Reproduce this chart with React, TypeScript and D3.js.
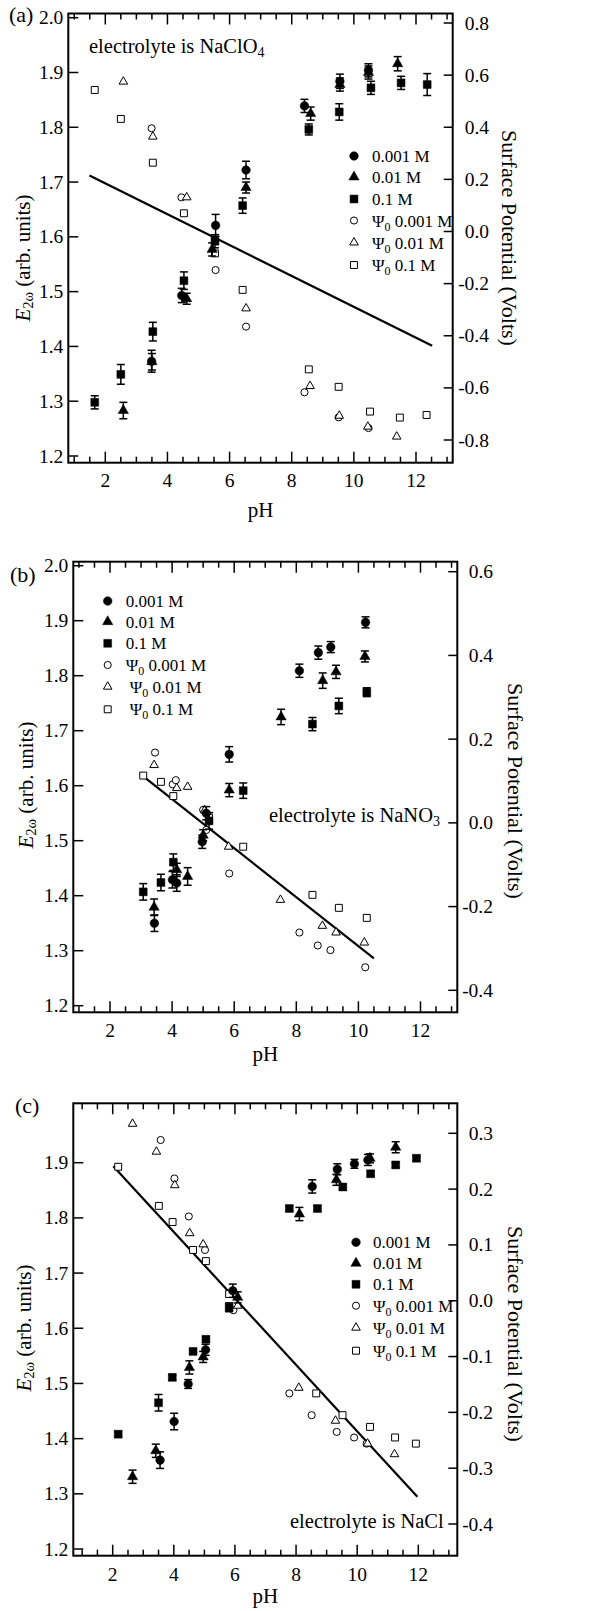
import React from 'react';
import * as d3 from 'd3';

// ---------- tick values ----------
const xTicks = [2, 4, 6, 8, 10, 12];
const xMinor = d3.range(1, 13.01, 0.5);
const leftTicksAB = [1.2, 1.3, 1.4, 1.5, 1.6, 1.7, 1.8, 1.9, 2.0];
const leftTicksC = [1.2, 1.3, 1.4, 1.5, 1.6, 1.7, 1.8, 1.9];
const rightTicksA = [-0.8, -0.6, -0.4, -0.2, 0.0, 0.2, 0.4, 0.6, 0.8];
const rightTicksB = [-0.4, -0.2, 0.0, 0.2, 0.4, 0.6];
const rightTicksC = [-0.4, -0.3, -0.2, -0.1, 0.0, 0.1, 0.2, 0.3];
const legendConc = ['0.001 M', '0.01 M', '0.1 M', '0.001 M', '0.01 M', '0.1 M'];

// ---------- panel (a) NaClO4 : [pH, E2w, err] ----------
const aFilled001: number[][] = [[3.49,1.373,0.02],[4.46,1.493,0.013],[5.55,1.621,0.02],[6.53,1.722,0.016],[8.41,1.839,0.012],[9.55,1.884,0.013],[10.47,1.904,0.012]];
const aFilled01: number[][] = [[2.58,1.283,0.015],[3.5,1.372,0.015],[4.62,1.487,0.01],[5.44,1.577,0.012],[6.53,1.690,0.01],[8.61,1.825,0.012],[9.55,1.878,0.012],[10.47,1.900,0.012],[11.41,1.916,0.013]];
const aFilled1: number[][] = [[1.66,1.298,0.012],[2.50,1.349,0.018],[3.53,1.427,0.017],[4.53,1.520,0.016],[5.53,1.592,0.012],[6.42,1.657,0.014],[8.55,1.796,0.01],[9.53,1.828,0.015],[10.55,1.872,0.012],[11.52,1.881,0.012],[12.36,1.878,0.02]];
// surface potential [pH, volts]
const aPsi001: number[][] = [[3.49,0.396],[4.45,0.131],[5.55,-0.148],[6.53,-0.365],[8.41,-0.617],[9.51,-0.713],[10.47,-0.754]];
const aPsi01: number[][] = [[2.58,0.575],[3.53,0.364],[4.62,0.131],[6.53,-0.295],[8.59,-0.593],[9.53,-0.707],[10.45,-0.749],[11.38,-0.787]];
const aPsi1: number[][] = [[1.66,0.543],[2.50,0.432],[3.53,0.264],[4.53,0.070],[5.53,-0.084],[6.42,-0.224],[8.55,-0.529],[9.51,-0.596],[10.52,-0.691],[11.48,-0.714],[12.34,-0.704]];
const aFit: number[][] = [[1.49,0.215],[12.52,-0.438]];

// ---------- panel (b) NaNO3 ----------
const bFilled001: number[][] = [[3.43,1.350,0.015],[4.01,1.429,0.015],[4.15,1.423,0.015],[4.97,1.498,0.012],[5.10,1.550,0.012],[5.84,1.657,0.014],[8.10,1.809,0.012],[8.71,1.842,0.012],[9.11,1.852,0.01],[10.23,1.897,0.01]];
const bFilled01: number[][] = [[3.42,1.379,0.015],[4.15,1.447,0.012],[4.50,1.435,0.016],[5.0,1.51,0.01],[5.84,1.592,0.012],[7.51,1.725,0.014],[8.85,1.791,0.014],[9.28,1.807,0.012],[10.21,1.835,0.01]];
const bFilled1: number[][] = [[3.07,1.407,0.015],[3.64,1.424,0.015],[4.04,1.461,0.015],[5.19,1.536,0.015],[6.29,1.591,0.014],[8.52,1.712,0.012],[9.37,1.745,0.014],[10.27,1.770,0.008]];
const bPsi001: number[][] = [[3.45,0.168],[4.02,0.092],[4.12,0.102],[5.0,0.031],[5.10,-0.017],[5.84,-0.121],[8.10,-0.262],[8.69,-0.293],[9.10,-0.304],[10.22,-0.345]];
const bPsi01: number[][] = [[3.42,0.138],[4.15,0.083],[4.50,0.086],[5.05,0.03],[5.82,-0.057],[7.49,-0.184],[8.84,-0.246],[9.28,-0.262],[10.19,-0.286]];
const bPsi1: number[][] = [[3.07,0.113],[3.64,0.098],[4.04,0.064],[5.19,0.012],[6.29,-0.057],[8.52,-0.172],[9.37,-0.203],[10.27,-0.227]];
const bFit: number[][] = [[2.97,0.117],[10.5,-0.324]];

// ---------- panel (c) NaCl ----------
const cFilled001: number[][] = [[3.55,1.361,0.015],[4.01,1.431,0.015],[4.47,1.499,0.008],[5.04,1.561,0.01],[5.93,1.668,0.012],[8.53,1.857,0.012],[9.35,1.888,0.01],[9.91,1.898,0.008],[10.35,1.905,0.01]];
const cFilled01: number[][] = [[2.65,1.331,0.012],[3.41,1.378,0.012],[4.51,1.529,0.012],[4.96,1.548,0.01],[6.09,1.656,0.01],[8.11,1.807,0.012],[9.32,1.869,0.01],[10.42,1.908,0.008],[11.26,1.928,0.01]];
const cFilled1: number[][] = [[2.18,1.408,0.005],[3.50,1.465,0.015],[3.95,1.511,0.005],[4.63,1.558,0.005],[5.05,1.580,0.005],[5.81,1.638,0.008],[7.78,1.817,0.005],[8.70,1.817,0.005],[9.53,1.856,0.005],[10.44,1.880,0.005],[11.26,1.896,0.005],[11.94,1.908,0.005]];
const cPsi001: number[][] = [[3.57,0.288],[4.02,0.219],[4.49,0.151],[5.02,0.091],[5.95,-0.017],[7.78,-0.166],[8.51,-0.205],[9.33,-0.235],[9.90,-0.245],[10.31,-0.256]];
const cPsi01: number[][] = [[2.65,0.317],[3.43,0.267],[4.03,0.207],[4.52,0.121],[4.96,0.101],[6.09,-0.009],[8.09,-0.156],[9.29,-0.215],[10.34,-0.256],[11.22,-0.275]];
const cPsi1: number[][] = [[2.18,0.240],[3.51,0.170],[3.96,0.141],[4.63,0.091],[5.05,0.071],[5.81,0.012],[8.66,-0.166],[9.52,-0.205],[10.42,-0.226],[11.24,-0.245],[11.92,-0.256]];
const cFit: number[][] = [[2.02,0.241],[11.97,-0.351]];

const FONT = "'Liberation Serif', 'Times New Roman', serif";
const shapes = [d3.symbolCircle, d3.symbolTriangle, d3.symbolSquare];
const filledSize = [58, 46, 62];
const openSize = [40, 32, 48];

type Cfg = {
  label: string;
  frame: [number, number, number, number];
  xr: [number, number];
  yLd: [number, number]; yLr: [number, number];
  yRd: [number, number]; yRr: [number, number];
  leftTicks: number[]; rightTicks: number[];
  rightLabelX: number;
  filled: number[][][]; open: number[][][]; fit: number[][];
  elec: string; elecSub: string | null; elecPos: [number, number];
  legX: number; legTextX: number; legRows: number[]; legIndent: number[];
  labelPos: [number, number];
  tickBase: number; phBase: number;
  leftTitle: [number, number]; rightTitle: [number, number];
};

function Mark({ shape, open, x, y }: { shape: number; open: boolean; x: number; y: number }) {
  const d = d3.symbol().type(shapes[shape]).size(open ? openSize[shape] : filledSize[shape])();
  return <path d={d || ''} transform={`translate(${x},${y})`} fill={open ? 'white' : 'black'} stroke="black" strokeWidth={open ? 1 : 0.5} />;
}

function Panel({ c }: { c: Cfg }) {
  const [fx0, fx1, fy0, fy1] = c.frame;
  const x = d3.scaleLinear().domain([2, 12]).range(c.xr);
  const yL = d3.scaleLinear().domain(c.yLd).range(c.yLr);
  const yR = d3.scaleLinear().domain(c.yRd).range(c.yRr);
  const fmt = d3.format('.1f');
  const fitLine = d3.line<number[]>().x(d => x(d[0])).y(d => yR(d[1]));
  return (
    <g fontFamily={FONT} fill="black">
      {xMinor.filter(t => x(t) > fx0 + 1 && x(t) < fx1 - 1).map(t => {
        const major = t % 2 === 0;
        const L = major ? 11 : 6;
        return (
          <g key={'xt' + t}>
            <line x1={x(t)} x2={x(t)} y1={fy1} y2={fy1 - L} stroke="black" strokeWidth={1.5} />
            <line x1={x(t)} x2={x(t)} y1={fy0} y2={fy0 + L} stroke="black" strokeWidth={1.5} />
          </g>
        );
      })}
      {xTicks.map(t => (
        <text key={'xl' + t} x={x(t)} y={c.tickBase} textAnchor="middle" fontSize={19.5}>{t}</text>
      ))}
      {c.leftTicks.map(t => (
        <g key={'yl' + t}>
          <line x1={fx0} x2={fx0 + 10} y1={yL(t)} y2={yL(t)} stroke="black" strokeWidth={1.5} />
          <text x={fx0 - 5} y={yL(t) + 6.5} textAnchor="end" fontSize={19.5}>{fmt(t)}</text>
        </g>
      ))}
      {c.rightTicks.map(t => (
        <g key={'yr' + t}>
          <line x1={fx1} x2={fx1 - 9} y1={yR(t)} y2={yR(t)} stroke="black" strokeWidth={1.5} />
          <text x={c.rightLabelX} y={yR(t) + 6.5} textAnchor="end" fontSize={19.5}>{fmt(t).replace('−', '-')}</text>
        </g>
      ))}
      <path d={fitLine(c.fit) || ''} fill="none" stroke="black" strokeWidth={2.2} />
      {c.open.map((s, si) => s.map((p, i) => (
        <Mark key={`o${si}-${i}`} shape={si} open x={x(p[0])} y={yR(p[1])} />
      )))}
      {c.filled.map((s, si) => s.map((p, i) => {
        const cx = x(p[0]);
        const yt = yL(p[1] + p[2]);
        const yb = yL(p[1] - p[2]);
        return (
          <g key={`f${si}-${i}`}>
            <line x1={cx} x2={cx} y1={yt} y2={yb} stroke="black" strokeWidth={1.5} />
            <line x1={cx - 4} x2={cx + 4} y1={yt} y2={yt} stroke="black" strokeWidth={1.5} />
            <line x1={cx - 4} x2={cx + 4} y1={yb} y2={yb} stroke="black" strokeWidth={1.5} />
            <Mark shape={si} open={false} x={cx} y={yL(p[1])} />
          </g>
        );
      }))}
      <rect x={fx0} y={fy0} width={fx1 - fx0} height={fy1 - fy0} fill="none" stroke="black" strokeWidth={2} />
      {legendConc.map((lab, i) => {
        const yy = c.legRows[i];
        return (
          <g key={'lg' + i}>
            <Mark shape={i % 3} open={i >= 3} x={c.legX} y={yy} />
            <text x={c.legTextX + c.legIndent[i]} y={yy + 6} fontSize={17}>
              {i >= 3 ? (<><tspan>Ψ</tspan><tspan fontSize={12} dy={4}>0</tspan><tspan dy={-4}> {lab}</tspan></>) : lab}
            </text>
          </g>
        );
      })}
      <text x={c.elecPos[0]} y={c.elecPos[1]} fontSize={20.5}>
        {c.elec}{c.elecSub && (<tspan fontSize={14} dy={4}>{c.elecSub}</tspan>)}
      </text>
      <text x={c.labelPos[0]} y={c.labelPos[1]} fontSize={22}>{c.label}</text>
      <text x={(fx0 + fx1) / 2} y={c.phBase} textAnchor="middle" fontSize={21}>pH</text>
      <text transform={`translate(${c.leftTitle[0]},${c.leftTitle[1]}) rotate(-90)`} textAnchor="middle" dominantBaseline="central" fontSize={21}>
        <tspan fontStyle="italic">E</tspan><tspan fontSize={14.5} dy={5}>2ω</tspan><tspan dy={-5}> (arb. units)</tspan>
      </text>
      <text transform={`translate(${c.rightTitle[0]},${c.rightTitle[1]}) rotate(90)`} textAnchor="middle" dominantBaseline="central" fontSize={22}>
        Surface Potential (Volts)
      </text>
    </g>
  );
}

const panelA: Cfg = {
  label: '(a)', frame: [68.3, 452.7, 13.5, 462.7], xr: [105.3, 416],
  yLd: [1.2, 2.0], yLr: [456, 17.7], yRd: [-0.8, 0.8], yRr: [440, 23],
  leftTicks: leftTicksAB, rightTicks: rightTicksA, rightLabelX: 489,
  filled: [aFilled001, aFilled01, aFilled1], open: [aPsi001, aPsi01, aPsi1], fit: aFit,
  elec: 'electrolyte is NaClO', elecSub: '4', elecPos: [89, 53],
  legX: 354, legTextX: 372, legRows: [156, 177, 199, 220.5, 242.5, 265], legIndent: [0, 0, 0, 0, 0, 0],
  labelPos: [9, 22], tickBase: 487, phBase: 517, leftTitle: [23, 258], rightTitle: [509, 238],
};
const panelB: Cfg = {
  label: '(b)', frame: [73.3, 457.3, 561.7, 1012.3], xr: [110, 420.5],
  yLd: [1.2, 2.0], yLr: [1005.7, 565.7], yRd: [-0.4, 0.6], yRr: [990.3, 571.7],
  leftTicks: leftTicksAB, rightTicks: rightTicksB, rightLabelX: 493,
  filled: [bFilled001, bFilled01, bFilled1], open: [bPsi001, bPsi01, bPsi1], fit: bFit,
  elec: 'electrolyte is NaNO', elecSub: '3', elecPos: [269, 822],
  legX: 107.7, legTextX: 125.7, legRows: [601, 621.7, 643.3, 665, 686.7, 709.3], legIndent: [0, 0, 0, 0, 4, 4],
  labelPos: [10, 582], tickBase: 1037, phBase: 1061, leftTitle: [26, 785], rightTitle: [515, 791],
};
const panelC: Cfg = {
  label: '(c)', frame: [73.3, 457.3, 1103.3, 1555.7], xr: [112.7, 418.3],
  yLd: [1.2, 1.9], yLr: [1549, 1162.7], yRd: [-0.4, 0.3], yRr: [1524, 1133.3],
  leftTicks: leftTicksC, rightTicks: rightTicksC, rightLabelX: 493,
  filled: [cFilled001, cFilled01, cFilled1], open: [cPsi001, cPsi01, cPsi1], fit: cFit,
  elec: 'electrolyte is NaCl', elecSub: null, elecPos: [290, 1528],
  legX: 356, legTextX: 373, legRows: [1242.3, 1263.3, 1284.3, 1305.7, 1327.7, 1350.7], legIndent: [0, 0, 0, 0, 0, 0],
  labelPos: [15, 1113], tickBase: 1581, phBase: 1603, leftTitle: [24, 1328], rightTitle: [515, 1334],
};

export default function App() {
  return (
    <div style={{ position: 'absolute', left: 0, top: 0, width: 615, height: 1611, background: 'white' }}>
      <svg width={615} height={1611} viewBox="0 0 615 1611" style={{ display: 'block' }}>
        <rect x={0} y={0} width={615} height={1611} fill="white" />
        <Panel c={panelA} />
        <Panel c={panelB} />
        <Panel c={panelC} />
      </svg>
    </div>
  );
}
